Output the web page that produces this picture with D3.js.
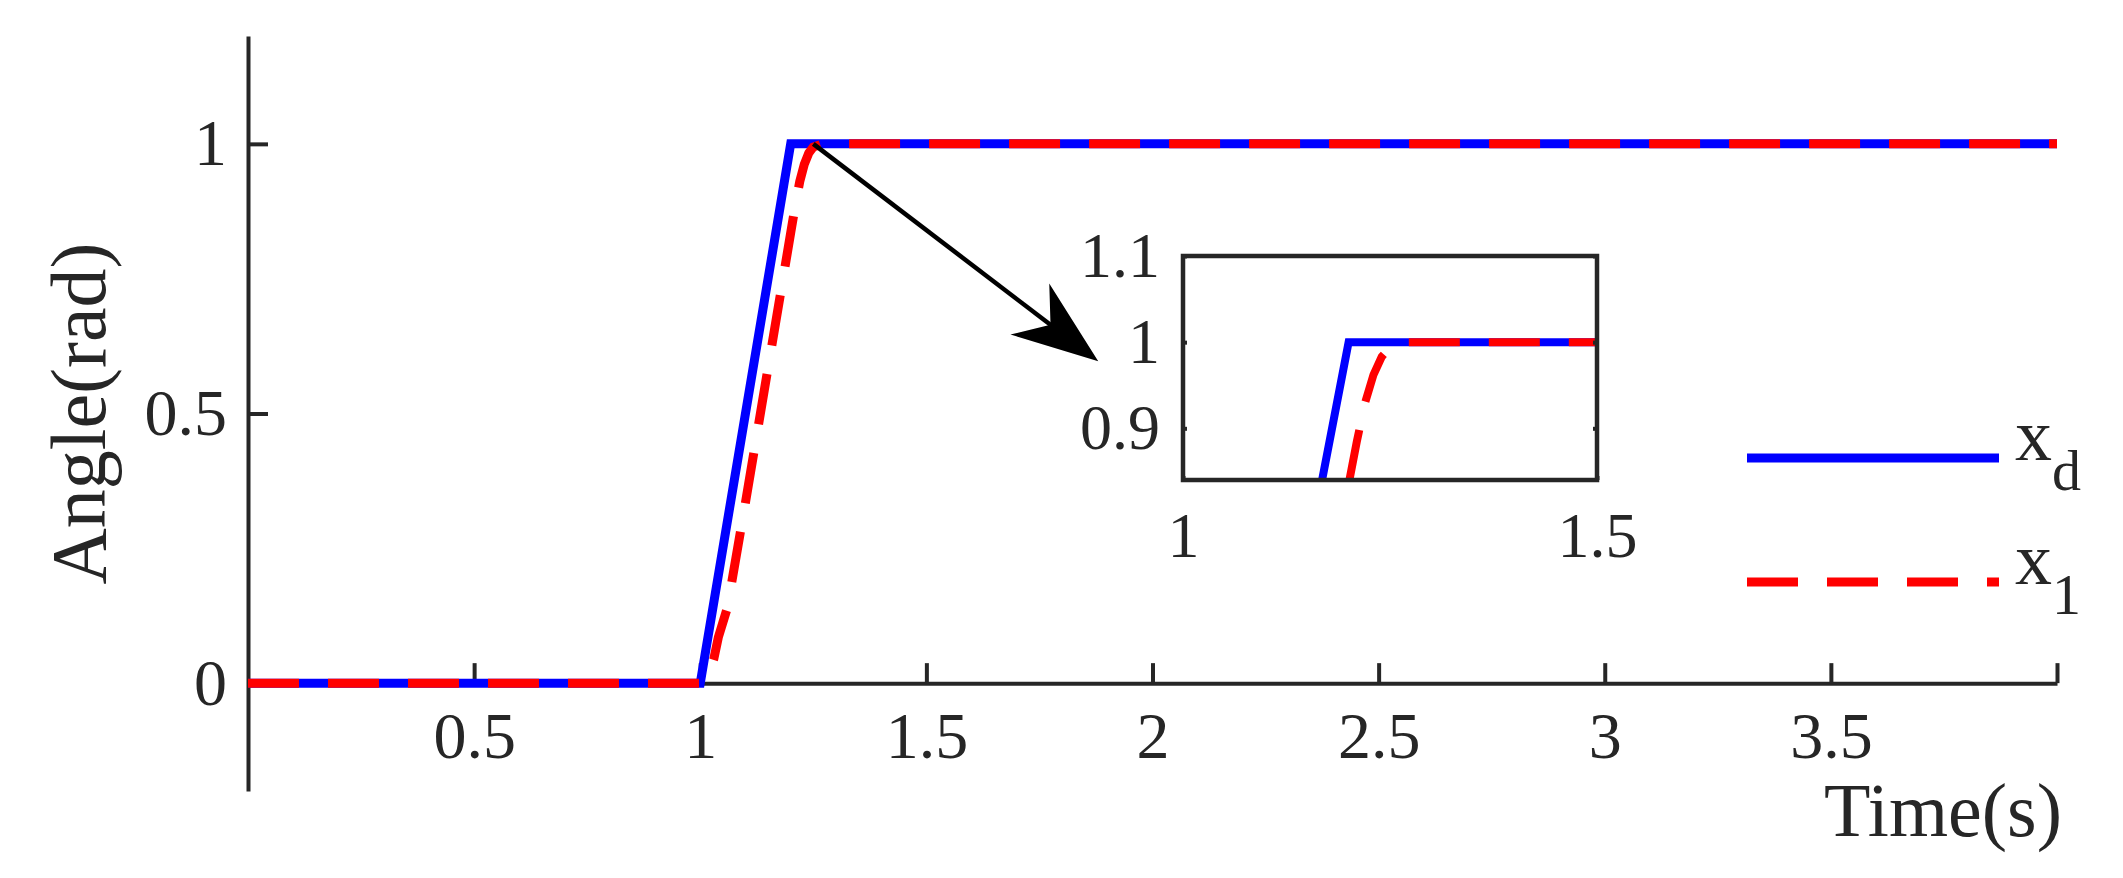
<!DOCTYPE html>
<html>
<head>
<meta charset="utf-8">
<script src="https://cdn.jsdelivr.net/npm/d3@7"></script>
<style>
body { margin: 0; background: #fff; }
text { font-family: "Liberation Serif", "Times New Roman", serif; fill: #262626; }
</style>
</head>
<body>
<script>
// reference signal x_d
var timeD = [0, 1, 1.2, 4];
var xd = [0, 0, 1, 1];
// tracked angle x_1
var time1 = [0, 1, 1.01, 1.02, 1.03, 1.04, 1.06, 1.1, 1.15, 1.2, 1.21, 1.22, 1.23, 1.24, 1.25, 1.27, 4];
var x1 = [0, 0, 0.005, 0.02, 0.045, 0.085, 0.14, 0.335, 0.585, 0.835, 0.885, 0.93, 0.962, 0.983, 0.994, 1, 1];

// ticks
var xTicks = [0.5, 1, 1.5, 2, 2.5, 3, 3.5, 4];
var yTicks = [0, 0.5, 1];
var zoomXTicks = [1, 1.5];
var zoomYTicks = [0.9, 1, 1.1];

// legend: main symbol + subscript
var legendNames = [["x", "d"], ["x", "1"]];

var w = 2123;
var h = 878;
var axisColor = "#262626";
var plain = function(d) { return String(d); };

var svg = d3.select("body")
            .append("svg")
            .attr("width", w)
            .attr("height", h);

// main scales
var xScale = d3.scaleLinear()
               .domain([0, 4])
               .range([248, 2057]);
var yScale = d3.scaleLinear()
               .domain([-0.2, 1.2])
               .range([791, 36]);

// zoom (inset) scales
var zx = d3.scaleLinear()
           .domain([1, 1.5])
           .range([1183, 1597]);
var zy = d3.scaleLinear()
           .domain([0.84, 1.1])
           .range([480, 256]);

function styleAxis(g, fontSize) {
  g.attr("font-family", null).attr("font-size", null);
  g.selectAll("path.domain").attr("stroke", axisColor).attr("stroke-width", 4);
  g.selectAll(".tick line").attr("stroke", axisColor).attr("stroke-width", 4);
  g.selectAll("text").style("font-size", fontSize + "px").attr("fill", axisColor);
}

// x axis through y = 0, ticks pointing up
var xAxis = svg.append("g")
               .attr("transform", "translate(0," + yScale(0) + ")")
               .call(d3.axisBottom(xScale)
                       .tickValues(xTicks)
                       .tickSizeInner(-20)
                       .tickSizeOuter(0)
                       .tickFormat(function(d) { return d === 4 ? "" : String(d); }));
styleAxis(xAxis, 66);
xAxis.selectAll("text").attr("y", 75).attr("dy", null);

// y axis at x = 0, ticks pointing right
var yAxis = svg.append("g")
               .attr("transform", "translate(" + xScale(0) + ",0)")
               .call(d3.axisLeft(yScale)
                       .tickValues(yTicks)
                       .tickSizeInner(-20)
                       .tickSizeOuter(0)
                       .tickFormat(plain));
styleAxis(yAxis, 66);
yAxis.selectAll("text").attr("x", -21);

// axis labels
svg.append("text")
   .attr("x", 2062)
   .attr("y", 836)
   .style("text-anchor", "end")
   .style("font-size", "76px")
   .text("Time(s)");

svg.append("text")
   .attr("transform", "translate(105," + yScale(0.5) + ") rotate(-90)")
   .style("text-anchor", "middle")
   .style("font-size", "78px")
   .text("Angle(rad)");

// main curves
var line = d3.line()
             .x(function(d) { return xScale(d[0]); })
             .y(function(d) { return yScale(d[1]); });

var blueData = d3.zip(timeD, xd);
var redData = d3.zip(time1, x1);

svg.append("path")
   .attr("d", line(blueData))
   .attr("fill", "none")
   .attr("stroke", "#0000ff")
   .attr("stroke-width", 9)
   .attr("stroke-linejoin", "miter");

svg.append("path")
   .attr("d", line(redData))
   .attr("fill", "none")
   .attr("stroke", "#ff0000")
   .attr("stroke-width", 9)
   .attr("stroke-dasharray", "51,29");

// legend
var legendColors = ["#0000ff", "#ff0000"];
var legendDash = [null, "51,29"];
legendNames.forEach(function(name, i) {
  var ly = 458 + i * 124;
  svg.append("line")
     .attr("x1", 1747).attr("x2", 1999)
     .attr("y1", ly).attr("y2", ly)
     .attr("stroke", legendColors[i])
     .attr("stroke-width", 9)
     .attr("stroke-dasharray", legendDash[i]);
  var t = svg.append("text")
             .attr("x", 2015)
             .attr("y", ly + 2)
             .style("font-size", "74px")
             .attr("fill", "#000");
  t.append("tspan").text(name[0]);
  t.append("tspan")
   .attr("dy", 30)
   .style("font-size", "58px")
   .text(name[1]);
});

// inset
function clipBelow(ts, vs, ymin) {
  /* keep the part of a series above ymin, cutting in at the crossing */
  var pts = [];
  for (var i = 0; i < ts.length; i++) {
    if (vs[i] >= ymin) {
      if (i > 0 && vs[i - 1] < ymin) {
        var f = (ymin - vs[i - 1]) / (vs[i] - vs[i - 1]);
        pts.push([ts[i - 1] + f * (ts[i] - ts[i - 1]), ymin]);
      }
      pts.push([ts[i], vs[i]]);
    }
  }
  return pts;
}

svg.append("clipPath")
   .attr("id", "zoomclip")
   .append("rect")
   .attr("x", zx(1)).attr("y", zy(1.1))
   .attr("width", zx(1.5) - zx(1))
   .attr("height", zy(0.84) - zy(1.1));

var zoomG = svg.append("g");

zoomG.append("rect")
     .attr("x", zx(1)).attr("y", zy(1.1))
     .attr("width", zx(1.5) - zx(1))
     .attr("height", zy(0.84) - zy(1.1))
     .attr("fill", "#fff");

var zline = d3.line()
              .x(function(d) { return zx(d[0]); })
              .y(function(d) { return zy(d[1]); });

var zoomLines = zoomG.append("g").attr("clip-path", "url(#zoomclip)");
zoomLines.append("path")
         .attr("d", zline(clipBelow(timeD, xd, 0.84)))
         .attr("fill", "none")
         .attr("stroke", "#0000ff")
         .attr("stroke-width", 8);
zoomLines.append("path")
         .attr("d", zline(clipBelow(time1, x1, 0.84)))
         .attr("fill", "none")
         .attr("stroke", "#ff0000")
         .attr("stroke-width", 8)
         .attr("stroke-dasharray", "51,29");

var zxAxis = zoomG.append("g")
                  .attr("transform", "translate(0," + zy(0.84) + ")")
                  .call(d3.axisBottom(zx).tickValues(zoomXTicks).tickSizeInner(-4).tickSizeOuter(0).tickFormat(plain));
styleAxis(zxAxis, 64);
zxAxis.select(".domain").remove();
zxAxis.selectAll("text").attr("y", 77).attr("dy", null);

var zyAxis = zoomG.append("g")
                  .attr("transform", "translate(" + zx(1) + ",0)")
                  .call(d3.axisLeft(zy).tickValues(zoomYTicks).tickSizeInner(-4).tickSizeOuter(0).tickFormat(plain));
styleAxis(zyAxis, 64);
zyAxis.select(".domain").remove();
zyAxis.selectAll("text").attr("x", -23);

var zyRight = zoomG.append("g")
                   .attr("transform", "translate(" + zx(1.5) + ",0)")
                   .call(d3.axisRight(zy).tickValues(zoomYTicks).tickSizeInner(-4).tickSizeOuter(0).tickFormat(""));
styleAxis(zyRight, 64);
zyRight.select(".domain").remove();

zoomG.append("rect")
     .attr("x", zx(1)).attr("y", zy(1.1))
     .attr("width", zx(1.5) - zx(1))
     .attr("height", zy(0.84) - zy(1.1))
     .attr("fill", "none")
     .attr("stroke", axisColor)
     .attr("stroke-width", 4.5);

// arrow from the corner to the inset (data units)
var arrowFrom = [1.25, 1];
var arrowTo = [1.88, 0.597];
var ax0 = xScale(arrowFrom[0]), ay0 = yScale(arrowFrom[1]);
var ax1 = xScale(arrowTo[0]), ay1 = yScale(arrowTo[1]);
var ang = Math.atan2(ay1 - ay0, ax1 - ax0) * 180 / Math.PI;
var len = Math.hypot(ax1 - ax0, ay1 - ay0);

var arrow = svg.append("g")
               .attr("transform", "translate(" + ax0 + "," + ay0 + ") rotate(" + ang + ")");
arrow.append("line")
     .attr("x1", 0).attr("y1", 0)
     .attr("x2", len - 58).attr("y2", 0)
     .attr("stroke", "#000")
     .attr("stroke-width", 4.5);
arrow.append("path")
     .attr("d", "M" + len + ",0 L" + (len - 86) + ",-32 L" + (len - 60) + ",0 L" + (len - 86) + ",32 Z")
     .attr("fill", "#000");
</script>
</body>
</html>
